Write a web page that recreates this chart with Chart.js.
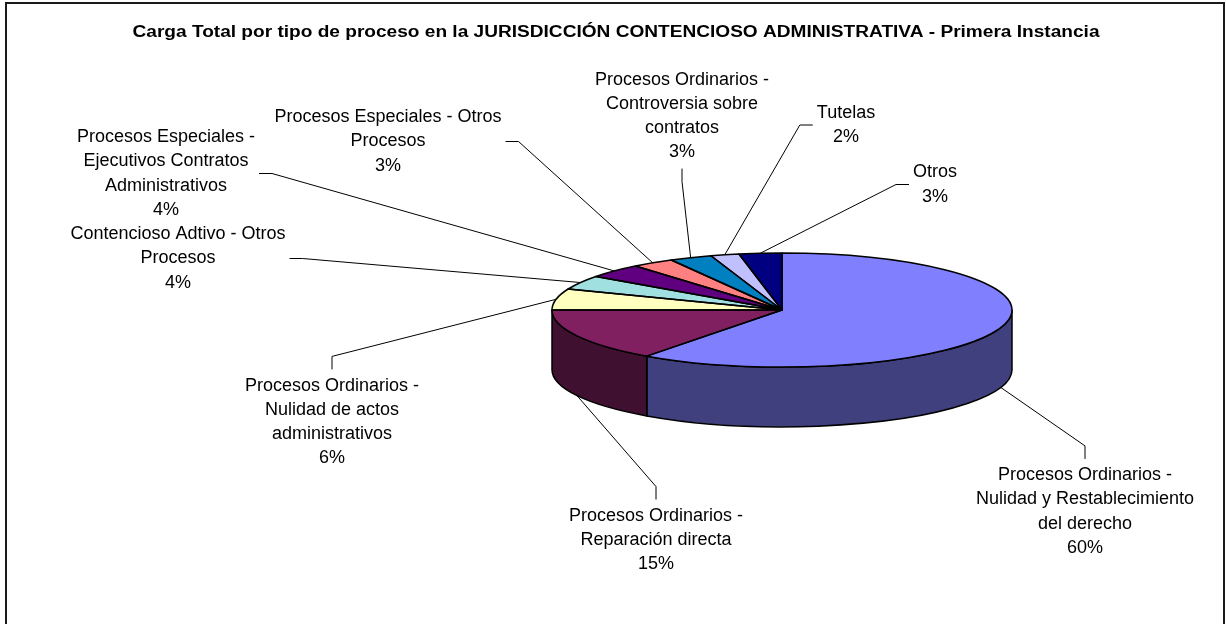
<!DOCTYPE html>
<html>
<head>
<meta charset="utf-8">
<script src="https://cdn.jsdelivr.net/npm/chart.js@4.4.0/dist/chart.umd.min.js"></script>
<style>
  html, body { margin: 0; padding: 0; background: #fff; overflow: hidden; }
  canvas { display: block; }
</style>
</head>
<body>
<canvas id="chart" width="1226" height="624"></canvas>
<script>
const TITLE = 'Carga Total por tipo de proceso en la JURISDICCIÓN CONTENCIOSO ADMINISTRATIVA - Primera Instancia';

const CATEGORIES = [
  'Procesos Ordinarios -\nNulidad y Restablecimiento\ndel derecho',
  'Procesos Ordinarios -\nReparación directa',
  'Procesos Ordinarios -\nNulidad de actos\nadministrativos',
  'Contencioso Adtivo - Otros\nProcesos',
  'Procesos Especiales -\nEjecutivos Contratos\nAdministrativos',
  'Procesos Especiales - Otros\nProcesos',
  'Procesos Ordinarios -\nControversia sobre\ncontratos',
  'Tutelas',
  'Otros'
];
const VALUES = [60, 15, 6, 4, 4, 3, 3, 2, 3];

const TOP_COLORS  = ['#8080ff', '#802060', '#ffffc0', '#a0e0e0', '#600080', '#ff8080', '#0080c0', '#c0c0ff', '#000080'];
const SIDE_COLORS = ['#40407f', '#401030', '#80805f', '#507070', '#300040', '#7f4040', '#004060', '#60607f', '#000040'];

// label box centre relative to the pie centre, and the side the leader leaves from
const LABEL_LAYOUT = [
  { dx: 303,  dy: 201.5,  side: 'top' },
  { dx: -126, dy: 230,    side: 'top' },
  { dx: -450, dy: 112,    side: 'top' },
  { dx: -604, dy: -51.5,  side: 'right' },
  { dx: -616, dy: -136.5, side: 'right' },
  { dx: -394, dy: -168.5, side: 'right' },
  { dx: -100, dy: -194,   side: 'bottom' },
  { dx: 64,   dy: -185,   side: 'left' },
  { dx: 153,  dy: -125.5, side: 'left' }
];

const TILT  = 0.248;   // ry / rx
const DEPTH = 0.26;    // wall height / rx
const LABEL_FONT = '18px "Liberation Sans", Arial, sans-serif';
const LINE_H = 24.3;

const total = VALUES.reduce((s, v) => s + v, 0);
const pct = v => Math.round(v / total * 100) + '%';

function geom(chart) {
  const arcs = chart.getDatasetMeta(0).data;
  const p = arcs[0].getProps(['x', 'y', 'outerRadius'], true);
  return { arcs, cx: p.x, cy: p.y, r: p.outerRadius, ry: p.outerRadius * TILT, depth: p.outerRadius * DEPTH };
}

const pie3d = {
  id: 'pie3d',
  beforeDatasetsDraw(chart) {
    const ctx = chart.ctx;
    const { arcs, cx, cy, r, ry, depth } = geom(chart);

    // front walls
    ctx.save();
    ctx.lineWidth = 1.5;
    ctx.strokeStyle = '#000';
    ctx.lineJoin = 'round';
    arcs.forEach((a, i) => {
      const lo = Math.max(a.startAngle, 0);
      const hi = Math.min(a.endAngle, Math.PI);
      if (lo >= hi) return;
      ctx.beginPath();
      ctx.ellipse(cx, cy, r, ry, 0, lo, hi);
      ctx.ellipse(cx, cy + depth, r, ry, 0, hi, lo, true);
      ctx.closePath();
      ctx.fillStyle = SIDE_COLORS[i];
      ctx.fill();
      ctx.stroke();
    });
    ctx.restore();

    // squash the top face
    ctx.save();
    ctx.translate(cx, cy);
    ctx.scale(1, TILT);
    ctx.translate(-cx, -cy);
  },
  afterDatasetsDraw(chart) {
    const ctx = chart.ctx;
    ctx.restore();
    const { arcs, cx, cy, r, ry } = geom(chart);
    ctx.save();
    ctx.lineWidth = 1.5;
    ctx.strokeStyle = '#000';
    ctx.lineJoin = 'round';
    arcs.forEach(a => {
      ctx.beginPath();
      ctx.moveTo(cx, cy);
      ctx.ellipse(cx, cy, r, ry, 0, a.startAngle, a.endAngle);
      ctx.closePath();
      ctx.stroke();
    });
    ctx.restore();
  },
  afterDraw(chart) {
    const ctx = chart.ctx;
    const { arcs, cx, cy, r, ry, depth } = geom(chart);

    // frame
    ctx.save();
    ctx.lineWidth = 2;
    ctx.strokeStyle = '#1a1a1a';
    ctx.strokeRect(6, 3, 1218, 700);

    // title
    ctx.font = 'bold 16px "Liberation Sans", Arial, sans-serif';
    ctx.fillStyle = '#000';
    ctx.textAlign = 'center';
    ctx.textBaseline = 'middle';
    const tw = ctx.measureText(TITLE).width;
    const sx = 967 / tw;
    ctx.save();
    ctx.translate(616, 33);
    ctx.scale(sx, 1);
    ctx.fillText(TITLE, 0, 0);
    ctx.restore();

    // data labels with leader lines
    ctx.font = LABEL_FONT;
    ctx.lineWidth = 1;
    ctx.strokeStyle = '#000';
    arcs.forEach((a, i) => {
      const lines = CATEGORIES[i].split('\n').concat(pct(VALUES[i]));
      const lay = LABEL_LAYOUT[i];
      const lx = cx + lay.dx, ly = cy + lay.dy;
      const h = lines.length * LINE_H;
      const w = Math.max(...lines.map(t => ctx.measureText(t).width));
      const top = ly - h / 2;
      lines.forEach((t, k) => ctx.fillText(t, lx, top + LINE_H * (k + 0.5)));

      const m = (a.startAngle + a.endAngle) / 2;
      const front = Math.sin(m) > 0;
      const px = cx + r * Math.cos(m);
      const py = cy + ry * Math.sin(m) + (front ? depth : 0);
      const gap = 4, seg = 13;
      let ax, ay, bx, by;
      if (lay.side === 'top')    { ax = lx; ay = top - gap; bx = ax; by = ay - seg; }
      if (lay.side === 'bottom') { ax = lx; ay = top + h + gap; bx = ax; by = ay + seg; }
      if (lay.side === 'right')  { ax = lx + w / 2 + gap; ay = ly; bx = ax + seg; by = ay; }
      if (lay.side === 'left')   { ax = lx - w / 2 - gap; ay = ly; bx = ax - seg; by = ay; }
      ctx.beginPath();
      ctx.moveTo(ax, ay);
      ctx.lineTo(bx, by);
      ctx.lineTo(px, py);
      ctx.stroke();
    });
    ctx.restore();
  }
};

new Chart(document.getElementById('chart'), {
  type: 'pie',
  data: {
    labels: CATEGORIES,
    datasets: [{
      data: VALUES,
      backgroundColor: TOP_COLORS,
      borderWidth: 0,
      clip: false
    }]
  },
  options: {
    responsive: false,
    animation: false,
    events: [],
    layout: { padding: { left: 552, right: 214, top: 80, bottom: 84 } },
    plugins: {
      legend: { display: false },
      tooltip: { enabled: false },
      title: { display: false }
    }
  },
  plugins: [pie3d]
});
</script>
</body>
</html>
